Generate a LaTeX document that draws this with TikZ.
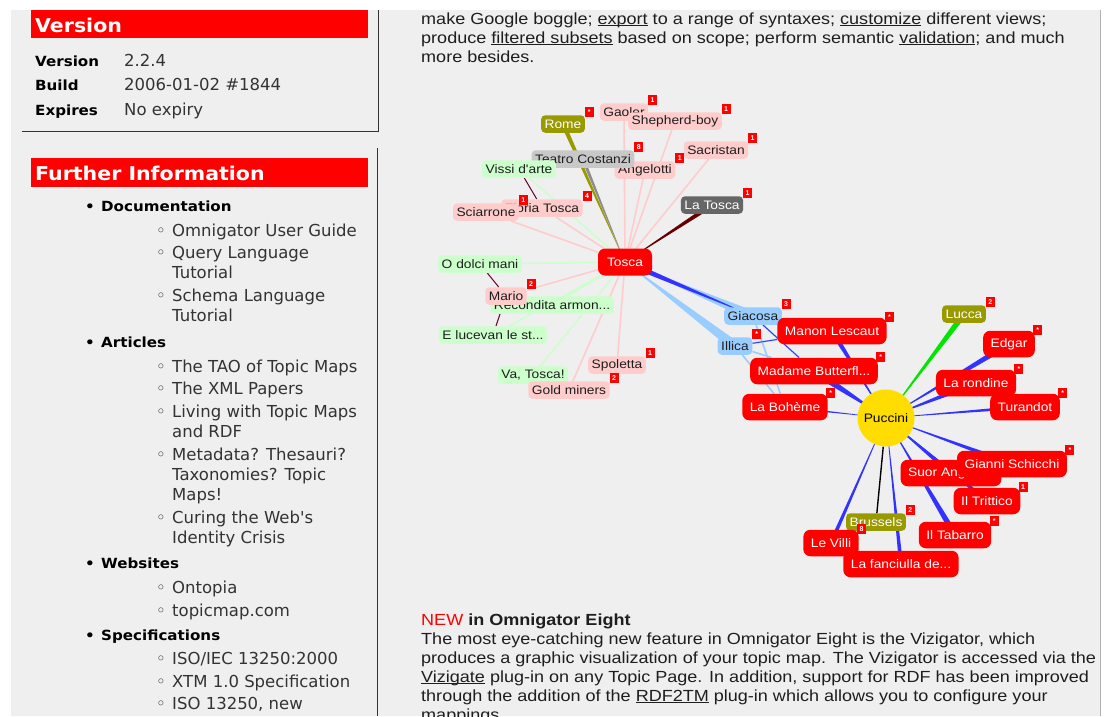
\documentclass[tikz,border=0pt]{standalone}
\usepackage{fontspec}
\setmainfont{Liberation Sans}
\newfontfamily\tahfont[FakeStretch=1.12]{Liberation Sans}
\newfontfamily\verfont{DejaVu Sans}
\newfontfamily\verwide[FakeStretch=1.08]{DejaVu Sans}
\usetikzlibrary{calc}
\definecolor{pagebg}{RGB}{239,239,239}
\definecolor{rolered}{RGB}{255,0,0}
\definecolor{pinkfill}{RGB}{255,204,204}
\definecolor{mintfill}{RGB}{204,255,204}
\definecolor{skyfill}{RGB}{153,204,255}
\definecolor{olivefill}{RGB}{153,153,0}
\definecolor{greyfill}{RGB}{200,200,200}
\definecolor{slatefill}{RGB}{102,102,102}
\definecolor{sunfill}{RGB}{255,221,0}
\definecolor{spokeblue}{RGB}{51,51,255}
\definecolor{spokegreen}{RGB}{0,230,0}
\definecolor{darkmaroon}{RGB}{102,0,0}
\definecolor{ariaink}{RGB}{102,0,51}
\definecolor{inktext}{RGB}{30,30,30}
\definecolor{listgrey}{RGB}{51,51,51}
\pgfdeclarelayer{back}
\pgfdeclarelayer{edges}
\pgfsetlayers{back,edges,main}
\newcommand\spoke[4]{\fill[#1] ($(#2.center)!#4!90:(#3.center)$) -- ($(#2.center)!#4!-90:(#3.center)$) -- (#3.center) -- cycle;}
\newcommand\linkword[1]{\setbox0\hbox{#1}\rlap{\rule[-2.2pt]{\wd0}{0.8pt}}\box0\relax}

\begin{document}
\begin{tikzpicture}[x=1pt,y=-1pt,
  every node/.style={font=\tahfont\fontsize{12.3}{14}\selectfont},
  tag/.style={rounded corners=4pt,inner xsep=3.5pt,inner ysep=0pt,minimum height=17.5pt,text=inktext},
  pinknode/.style={tag,fill=pinkfill},
  mintnode/.style={tag,fill=mintfill},
  skynode/.style={tag,fill=skyfill},
  greynode/.style={tag,fill=greyfill},
  olivenode/.style={tag,fill=olivefill,text=white},
  slatenode/.style={tag,fill=slatefill,text=white},
  opera/.style={rounded corners=7pt,fill=rolered,text=white,inner xsep=7.5pt,inner ysep=0pt,minimum height=26.5pt},
  hub/.style={opera,inner xsep=9pt,minimum height=27pt},
  sun/.style={circle,fill=sunfill,minimum size=57pt,inner sep=0pt,text=black},
  badge/.style={fill=rolered,text=white,inner sep=0pt,minimum width=9pt,minimum height=10pt,anchor=south west,font=\fontsize{7}{7}\selectfont\bfseries},
  pinkflag/.style={badge,xshift=-0.5pt,yshift=-2pt},
  redflag/.style={badge,xshift=-2pt,yshift=-5pt},
  roleline/.style={draw=pinkfill,line width=1.6pt},
  ariline/.style={draw=mintfill,line width=1.6pt},
  skyline/.style={draw=skyfill,line width=1.6pt},
  ariaedge/.style={draw=ariaink,line width=1pt},
  panelline/.style={draw=black!80,line width=1pt},
  paneltitle/.style={anchor=base west,inner sep=0pt,text=white,font=\verwide\bfseries\fontsize{19}{22}\selectfont},
  rowkey/.style={anchor=base west,inner sep=0pt,text=black,font=\verwide\bfseries\fontsize{14}{16}\selectfont},
  rowval/.style={anchor=base west,inner sep=0pt,text=listgrey,font=\verfont\fontsize{16.5}{19}\selectfont},
  prose/.style={anchor=base west,inner sep=0pt,text=inktext,font=\tahfont\fontsize{16.1}{19}\selectfont}]
\useasboundingbox (0,0) rectangle (1110,716);

\begin{pgfonlayer}{back}
\fill[white] (0,0) rectangle (1110,716);
\fill[pagebg] (11,10) rectangle (1100,716);
\draw[panelline] (22,131) -- (378,131) -- (378,10);
\draw[panelline] (377,148) -- (377,716);
\draw[black!30] (1100,10) -- (1100,716);
\fill[rolered] (31,10) rectangle (368,38);
\fill[rolered] (31,158) rectangle (368,187);
\end{pgfonlayer}

\node[paneltitle] (versiontitle) at (35,32) {Version};
\node[rowkey] (versionkey) at (35,66) {Version};
\node[rowval] (versionval) at (124,66) {2.2.4};
\node[rowkey] (buildkey) at (35,90) {Build};
\node[rowval] (buildval) at (124,90) {2006-01-02 \#1844};
\node[rowkey] (expireskey) at (35,115) {Expires};
\node[rowval] (expiresval) at (124,115) {No expiry};

\node[paneltitle] (furthertitle) at (35,180) {Further Information};
\foreach \yy/\txt in {211/Documentation,347/Articles,568/Websites,640/Specifications}
  \node[rowkey] (head\yy) at (85,\yy) {\makebox[16pt][l]{•}\txt};
\foreach \yy/\txt in {236/Omnigator User Guide,258/Query Language,301/Schema Language,372/The TAO of Topic Maps,394/The XML Papers,417/Living with Topic Maps,460/Metadata? Thesauri?,523/Curing the Web's,593/Ontopia,616/topicmap.com,664/{ISO/IEC 13250:2000},687/XTM 1.0 Specification,709/{ISO 13250, new}}
  \node[rowval] (item\yy) at (156,\yy) {\makebox[16pt][l]{◦}\txt};
\foreach \yy/\txt in {278/Tutorial,321/Tutorial,437/and RDF,480/Taxonomies? Topic,500/Maps!,543/Identity Crisis}
  \node[rowval] (wrap\yy) at (172,\yy) {\txt};

\node[prose] (introa) at (421,24) {make Google boggle; \linkword{export} to a range of syntaxes; \linkword{customize} different views;};
\node[prose] (introb) at (421,43) {produce \linkword{filtered subsets} based on scope; perform semantic \linkword{validation}; and much};
\node[prose] (introc) at (421,62) {more besides.};
\node[prose] (newa) at (421,625) {\textcolor{rolered}{NEW} \textbf{in Omnigator Eight}};
\node[prose] (newb) at (421,644) {The most eye-catching new feature in Omnigator Eight is the Vizigator, which};
\node[prose] (newc) at (421,663) {produces a graphic visualization of your topic map. The Vizigator is accessed via the};
\node[prose] (newd) at (421,682) {\linkword{Vizigate} plug-in on any Topic Page. In addition, support for RDF has been improved};
\node[prose] (newe) at (421,701) {through the addition of the \linkword{RDF2TM} plug-in which allows you to configure your};
\node[prose] (newf) at (421,720) {mappings.};

\node[hub] (tosca) at (625,262) {Tosca};
\node[pinknode] (gaoler) at (624,112) {Gaoler};
\node[pinkflag] (gaolerflag) at (gaoler.north east) {1};
\node[pinknode] (shepherd) at (675,121) {Shepherd-boy};
\node[pinkflag] (shepherdflag) at (shepherd.north east) {1};
\node[pinknode] (sacristan) at (716,150) {Sacristan};
\node[pinkflag] (sacristanflag) at (sacristan.north east) {1};
\node[pinknode] (angelotti) at (645,170) {Angelotti};
\node[pinkflag] (angelottiflag) at (angelotti.north east) {1};
\node[greynode] (teatro) at (583,159) {Teatro Costanzi};
\node[pinkflag] (teatroflag) at (teatro.north east) {8};
\node[olivenode] (rome) at (563,124) {Rome};
\node[pinkflag] (romeflag) at (rome.north east) {*};
\node[mintnode] (vissi) at (519,169) {Vissi d'arte};
\node[pinknode] (floria) at (542,208) {Floria Tosca};
\node[pinkflag] (floriaflag) at (floria.north east) {4};
\node[pinknode] (sciarrone) at (486,212) {Sciarrone};
\node[pinkflag] (sciarroneflag) at (sciarrone.north east) {1};
\node[slatenode] (latosca) at (712,205) {La Tosca};
\node[pinkflag] (latoscaflag) at (latosca.north east) {1};
\node[mintnode] (dolci) at (480,264) {O dolci mani};
\node[mintnode] (recondita) at (552,305) {Recondita armon...};
\node[pinknode] (mario) at (506,296) {Mario};
\node[pinkflag] (marioflag) at (mario.north east) {2};
\node[mintnode] (lucevan) at (493,335) {E lucevan le st...};
\node[pinknode] (spoletta) at (617,365) {Spoletta};
\node[pinkflag] (spolettaflag) at (spoletta.north east) {1};
\node[mintnode] (vatosca) at (533,375) {Va, Tosca!};
\node[pinknode] (goldminers) at (569,390) {Gold miners};
\node[pinkflag] (goldminersflag) at (goldminers.north east) {2};

\node[skynode] (giacosa) at (753,316) {Giacosa};
\node[pinkflag] (giacosaflag) at (giacosa.north east) {3};
\node[skynode] (illica) at (735,346) {Illica};
\node[pinkflag] (illicaflag) at (illica.north east) {*};
\node[opera] (manon) at (832,331) {Manon Lescaut};
\node[redflag] (manonflag) at (manon.north east) {*};
\node[opera] (butterfly) at (814,371) {Madame Butterfl...};
\node[redflag] (butterflyflag) at (butterfly.north east) {*};
\node[opera] (boheme) at (785,407) {La Bohème};
\node[redflag] (bohemeflag) at (boheme.north east) {*};
\node[sun] (puccini) at (886,418) {Puccini};
\node[olivenode] (lucca) at (964,314) {Lucca};
\node[pinkflag] (luccaflag) at (lucca.north east) {2};
\node[opera] (edgar) at (1009,344) {Edgar};
\node[redflag] (edgarflag) at (edgar.north east) {*};
\node[opera] (rondine) at (976,383) {La rondine};
\node[redflag] (rondineflag) at (rondine.north east) {*};
\node[opera] (turandot) at (1025,407) {Turandot};
\node[redflag] (turandotflag) at (turandot.north east) {*};
\node[opera] (suor) at (951,473) {Suor Angelica};
\node[opera] (schicchi) at (1012,464) {Gianni Schicchi};
\node[redflag] (schicchiflag) at (schicchi.north east) {*};
\node[opera] (trittico) at (987,501) {Il Trittico};
\node[redflag] (tritticoflag) at (trittico.north east) {1};
\node[opera] (tabarro) at (955,535) {Il Tabarro};
\node[redflag] (tabarroflag) at (tabarro.north east) {*};
\node[olivenode] (brussels) at (876,522) {Brussels};
\node[pinkflag] (brusselsflag) at (brussels.north east) {2};
\node[opera] (fanciulla) at (901,564) {La fanciulla de...};
\node[opera] (villi) at (831,543) {Le Villi};
\node[redflag] (villiflag) at (villi.north east) {8};

\begin{pgfonlayer}{edges}
\foreach \leaf in {gaoler,shepherd,sacristan,angelotti,sciarrone,floria,mario,spoletta,goldminers}
  \draw[roleline] (tosca) -- (\leaf);
\foreach \leaf in {vissi,dolci,recondita,lucevan,vatosca}
  \draw[ariline] (tosca) -- (\leaf);
\spoke{olivefill}{rome}{tosca}{2.2pt}
\spoke{black!45}{teatro}{tosca}{1.6pt}
\spoke{darkmaroon}{latosca}{tosca}{2.4pt}
\spoke{skyfill}{giacosa}{tosca}{5pt}
\spoke{skyfill}{illica}{tosca}{5pt}
\spoke{spokeblue}{tosca}{giacosa}{3pt}
\foreach \op in {manon,butterfly,boheme}{
  \draw[skyline] (giacosa) -- (\op);
  \draw[skyline] (illica) -- (\op);}
\draw[spokeblue,line width=0.9pt] (giacosa) -- (butterfly);
\draw[spokeblue,line width=0.9pt] (illica) -- (manon);
\draw[ariaedge] (floria) -- (vissi);
\draw[ariaedge] (mario) -- (dolci);
\draw[ariaedge] (mario) -- (recondita);
\draw[ariaedge] (mario) -- (lucevan);
\spoke{spokeblue}{manon}{puccini}{2.5pt}
\spoke{spokeblue}{butterfly}{puccini}{4pt}
\spoke{spokeblue}{boheme}{puccini}{1.2pt}
\spoke{spokeblue}{edgar}{puccini}{3pt}
\spoke{spokeblue}{rondine}{puccini}{3pt}
\spoke{spokeblue}{turandot}{puccini}{1.8pt}
\spoke{spokeblue}{schicchi}{puccini}{2.5pt}
\spoke{spokeblue}{suor}{puccini}{2.5pt}
\spoke{spokeblue}{trittico}{puccini}{2pt}
\spoke{spokeblue}{tabarro}{puccini}{3pt}
\spoke{spokeblue}{villi}{puccini}{2pt}
\spoke{spokeblue}{fanciulla}{puccini}{2pt}
\spoke{spokegreen}{lucca}{puccini}{3pt}
\draw[black,line width=1.4pt] (puccini) -- (brussels);
\end{pgfonlayer}
\end{tikzpicture}
\end{document}
